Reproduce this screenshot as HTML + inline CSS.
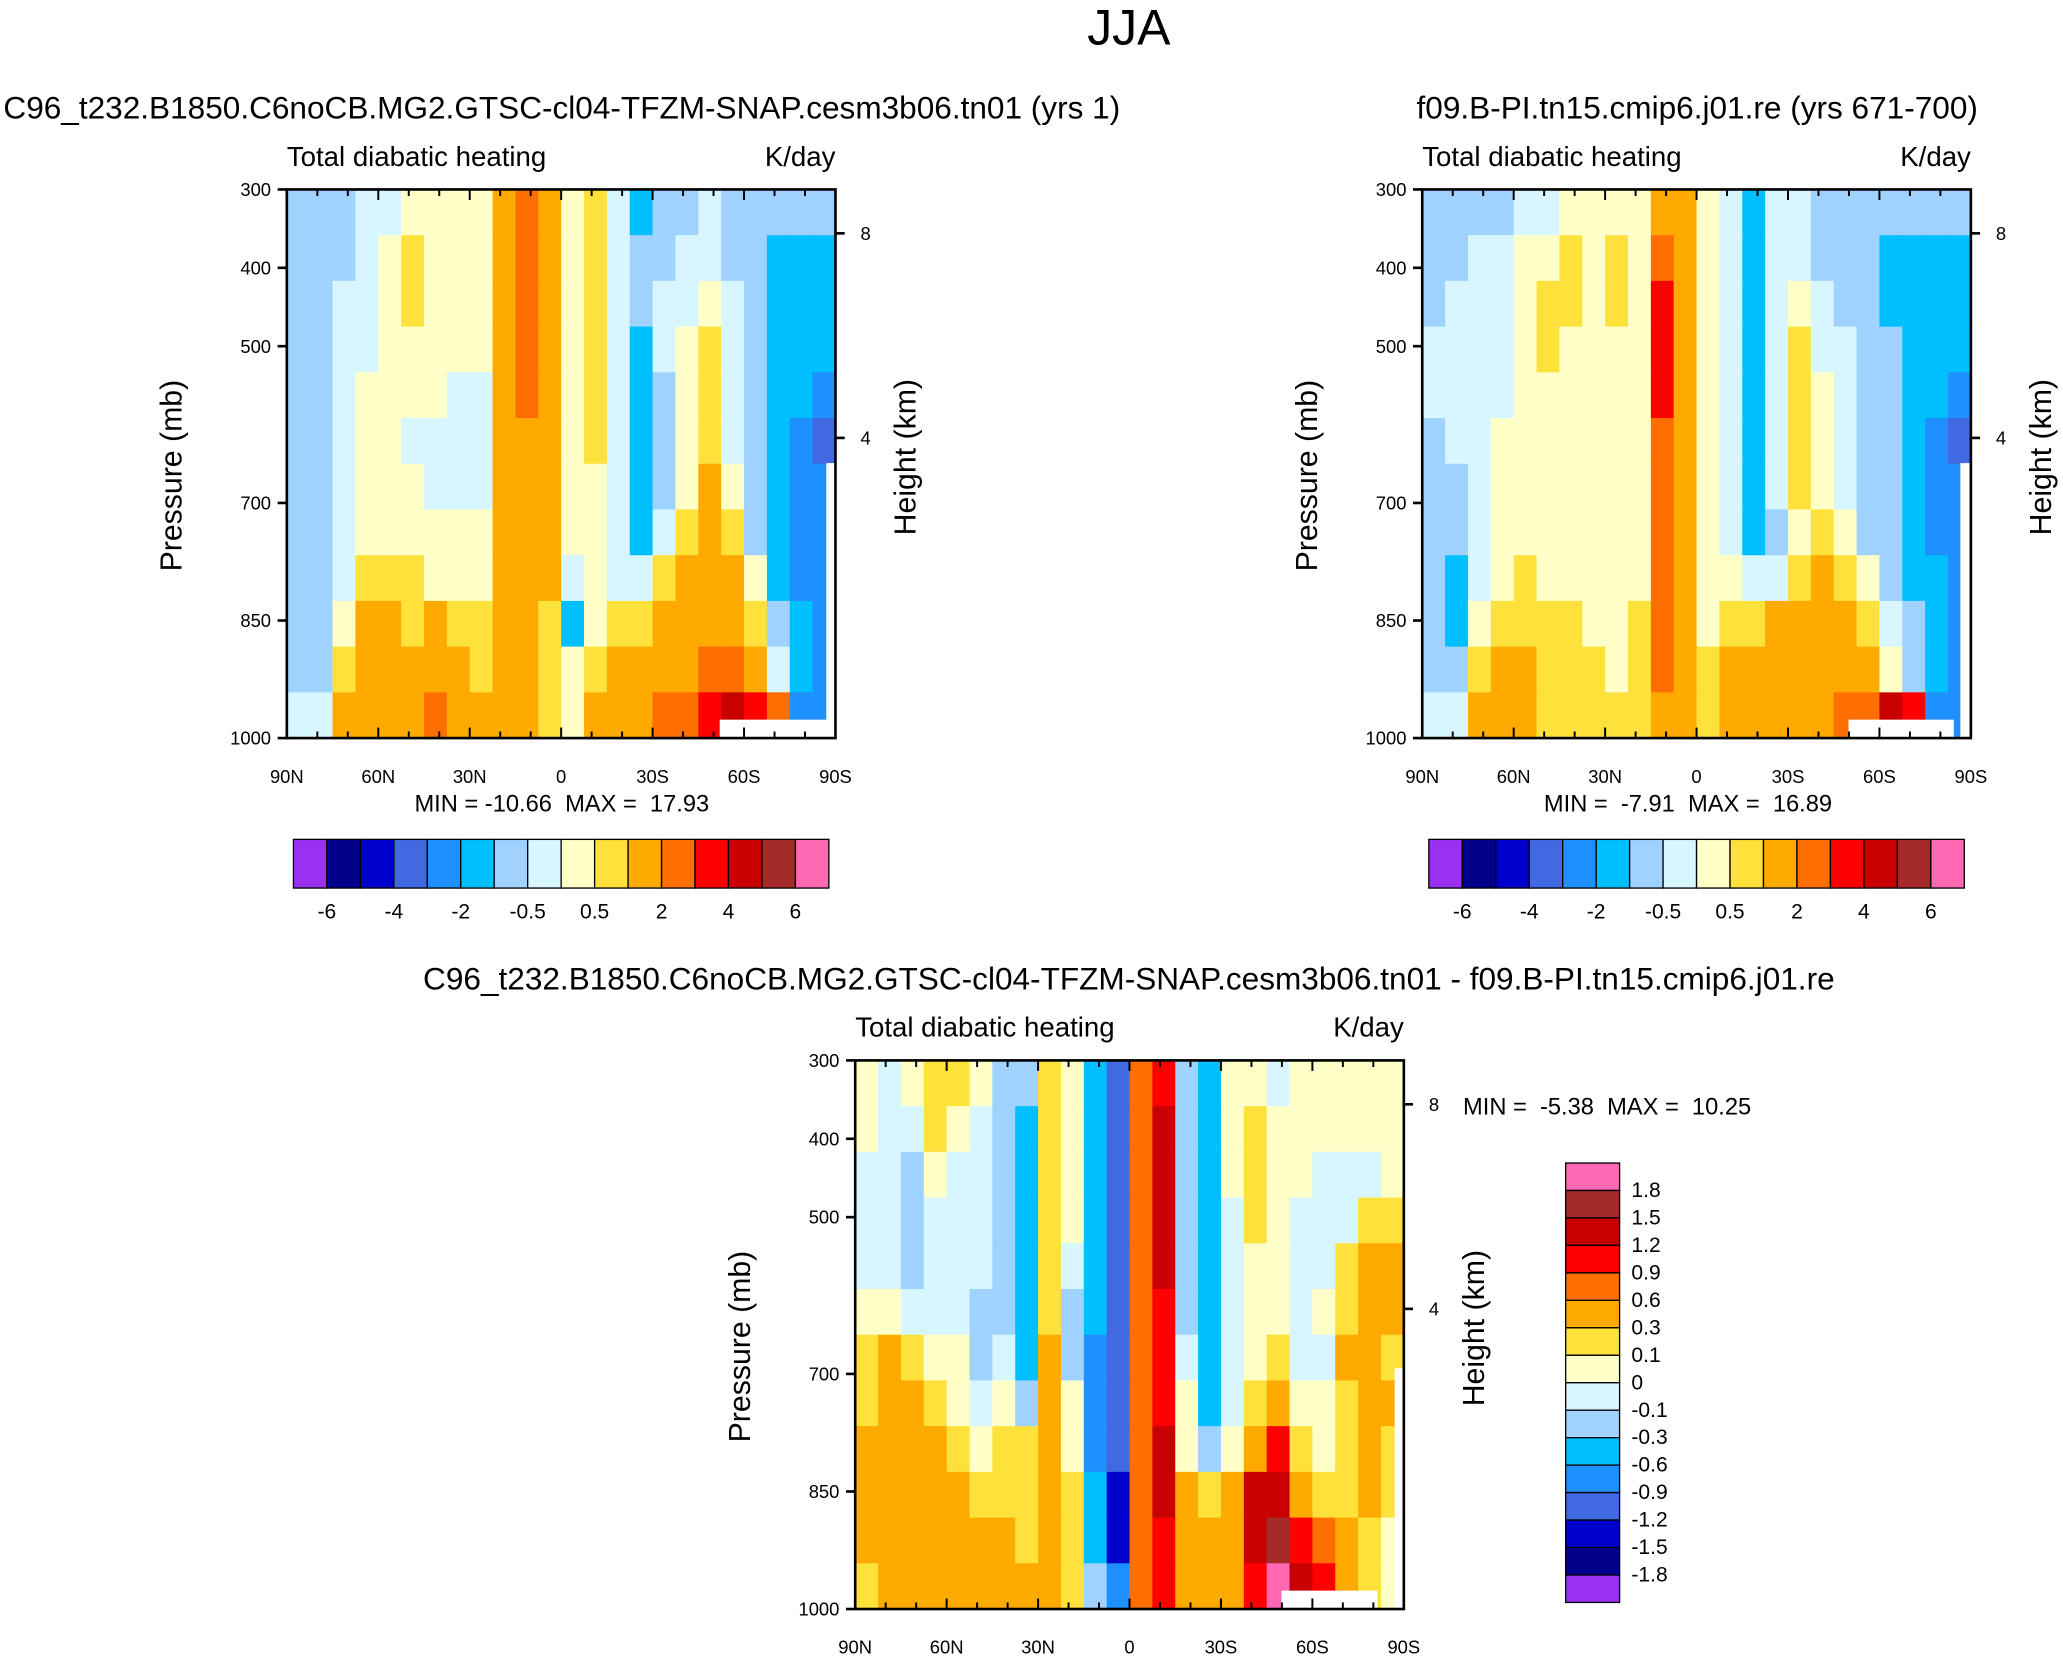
<!DOCTYPE html>
<html><head><meta charset="utf-8"><style>
html,body{margin:0;padding:0;background:#fff}
svg{display:block;font-family:"Liberation Sans",Arial,sans-serif}
text{white-space:pre}
</style></head><body>
<svg id="s" width="2063" height="1661" viewBox="0 0 1568 1262.5" xmlns="http://www.w3.org/2000/svg" xml:space="preserve">
<rect width="1568" height="1262.5" fill="#fff"/>
<text x="858" y="34" font-size="38" text-anchor="middle">JJA</text>
</svg>
<script>
const palette=["#9B30F0","#00008B","#0000CD","#4169E1","#1E90FF","#00BFFF","#A0D2FF","#D8F6FF","#FFFFC8","#FFE13C","#FFAA00","#FF6E00","#FF0000","#C80000","#A52A2A","#FF69B4"];
const levelsAbs=[-6,-5,-4,-3,-2,-1,-0.5,0,0.5,1,2,3,4,5,6];
const levelsDiff=[-1.8,-1.5,-1.2,-0.9,-0.6,-0.3,-0.1,0,0.1,0.3,0.6,0.9,1.2,1.5,1.8];
const cbLabelsAbs=["-6","-4","-2","-0.5","0.5","2","4","6"];
const cbLabelsDiff=["1.8","1.5","1.2","0.9","0.6","0.3","0.1","0","-0.1","-0.3","-0.6","-0.9","-1.2","-1.5","-1.8"];
const pTicks=[300,400,500,700,850,1000];
const zTicks=[8,4];
const zTickP=[356,617];
const latTicks=["90N","60N","30N","0","30S","60S","90S"];
const grid1=[
[-0.7,-0.7,-0.7,-0.3,-0.3,0.3,0.3,0.3,0.3,1.5,2.5,1.5,0.3,0.7,-0.3,-1.5,-0.7,-0.7,-0.3,-0.7,-0.7,-0.7,-0.7,-0.7],
[-0.7,-0.7,-0.7,-0.3,0.3,0.7,0.3,0.3,0.3,1.5,2.5,1.5,0.3,0.7,-0.3,-0.7,-0.7,-0.3,-0.3,-0.7,-0.7,-1.5,-1.5,-1.5],
[-0.7,-0.7,-0.3,-0.3,0.3,0.7,0.3,0.3,0.3,1.5,2.5,1.5,0.3,0.7,-0.3,-0.7,-0.3,-0.3,0.3,-0.3,-0.7,-1.5,-1.5,-1.5],
[-0.7,-0.7,-0.3,-0.3,0.3,0.3,0.3,0.3,0.3,1.5,2.5,1.5,0.3,0.7,-0.3,-1.5,-0.3,0.3,0.7,-0.3,-0.7,-1.5,-1.5,-1.5],
[-0.7,-0.7,-0.3,0.3,0.3,0.3,0.3,-0.3,-0.3,1.5,2.5,1.5,0.3,0.7,-0.3,-1.5,-0.7,0.3,0.7,-0.3,-0.7,-1.5,-1.5,-2.5],
[-0.7,-0.7,-0.3,0.3,0.3,-0.3,-0.3,-0.3,-0.3,1.5,1.5,1.5,0.3,0.7,-0.3,-1.5,-0.7,0.3,0.7,-0.3,-0.7,-1.5,-2.5,-3.5],
[-0.7,-0.7,-0.3,0.3,0.3,0.3,-0.3,-0.3,-0.3,1.5,1.5,1.5,0.3,0.3,-0.3,-1.5,-0.7,0.3,1.5,0.3,-0.7,-1.5,-2.5,-2.5],
[-0.7,-0.7,-0.3,0.3,0.3,0.3,0.3,0.3,0.3,1.5,1.5,1.5,0.3,0.3,-0.3,-1.5,-0.3,0.7,1.5,0.7,-0.7,-1.5,-2.5,-2.5],
[-0.7,-0.7,-0.3,0.7,0.7,0.7,0.3,0.3,0.3,1.5,1.5,1.5,-0.3,0.3,-0.3,-0.3,0.7,1.5,1.5,1.5,0.3,-1.5,-2.5,-2.5],
[-0.7,-0.7,0.3,1.5,1.5,0.7,1.5,0.7,0.7,1.5,1.5,0.7,-1.5,0.3,0.7,0.7,1.5,1.5,1.5,1.5,0.7,-0.7,-1.5,-2.5],
[-0.7,-0.7,0.7,1.5,1.5,1.5,1.5,1.5,0.7,1.5,1.5,0.7,0.3,0.7,1.5,1.5,1.5,1.5,2.5,2.5,1.5,-0.3,-1.5,-2.5],
[-0.3,-0.3,1.5,1.5,1.5,1.5,2.5,1.5,1.5,1.5,1.5,0.7,0.3,1.5,1.5,1.5,2.5,2.5,3.5,4.5,3.5,2.5,-2.5,-2.5]];
const grid2=[
[-0.7,-0.7,-0.7,-0.7,-0.3,-0.3,0.3,0.3,0.3,0.3,1.5,1.5,0.3,-0.3,-1.5,-0.3,-0.3,-0.7,-0.7,-0.7,-0.7,-0.7,-0.7,-0.7],
[-0.7,-0.7,-0.3,-0.3,0.3,0.3,0.7,0.3,0.7,0.3,2.5,1.5,0.3,-0.3,-1.5,-0.3,-0.3,-0.7,-0.7,-0.7,-1.5,-1.5,-1.5,-1.5],
[-0.7,-0.3,-0.3,-0.3,0.3,0.7,0.7,0.3,0.7,0.3,3.5,1.5,0.3,-0.3,-1.5,-0.3,0.3,-0.3,-0.7,-0.7,-1.5,-1.5,-1.5,-1.5],
[-0.3,-0.3,-0.3,-0.3,0.3,0.7,0.3,0.3,0.3,0.3,3.5,1.5,0.3,-0.3,-1.5,-0.3,0.7,-0.3,-0.3,-0.7,-0.7,-1.5,-1.5,-1.5],
[-0.3,-0.3,-0.3,-0.3,0.3,0.3,0.3,0.3,0.3,0.3,3.5,1.5,0.3,-0.3,-1.5,-0.3,0.7,0.3,-0.3,-0.7,-0.7,-1.5,-1.5,-2.5],
[-0.7,-0.3,-0.3,0.3,0.3,0.3,0.3,0.3,0.3,0.3,2.5,1.5,0.3,-0.3,-1.5,-0.3,0.7,0.3,-0.3,-0.7,-0.7,-1.5,-2.5,-3.5],
[-0.7,-0.7,-0.3,0.3,0.3,0.3,0.3,0.3,0.3,0.3,2.5,1.5,0.3,-0.3,-1.5,-0.3,0.7,0.3,-0.3,-0.7,-0.7,-1.5,-2.5,-2.5],
[-0.7,-0.7,-0.3,0.3,0.3,0.3,0.3,0.3,0.3,0.3,2.5,1.5,0.3,-0.3,-1.5,-0.7,0.3,0.7,0.3,-0.7,-0.7,-1.5,-2.5,-2.5],
[-0.7,-1.5,-0.3,0.3,0.7,0.3,0.3,0.3,0.3,0.3,2.5,1.5,0.3,0.3,-0.3,-0.3,0.7,1.5,0.7,0.3,-0.7,-1.5,-1.5,-2.5],
[-0.7,-1.5,0.3,0.7,0.7,0.7,0.7,0.3,0.3,0.7,2.5,1.5,0.3,0.7,0.7,1.5,1.5,1.5,1.5,0.7,-0.3,-0.7,-1.5,-2.5],
[-0.7,-0.7,0.7,1.5,1.5,0.7,0.7,0.7,0.3,0.7,2.5,1.5,0.7,1.5,1.5,1.5,1.5,1.5,1.5,1.5,0.3,-0.7,-1.5,-2.5],
[-0.3,-0.3,1.5,1.5,1.5,0.7,0.7,0.7,0.7,0.7,1.5,1.5,0.7,1.5,1.5,1.5,1.5,1.5,2.5,2.5,4.5,3.5,-2.5,-2.5]];
const grid3=[
[0.05,-0.05,0.05,0.2,0.2,0.05,-0.2,-0.2,0.2,0.05,-0.4,-1.0,0.7,1.0,-0.2,-0.4,0.05,0.05,-0.05,0.05,0.05,0.05,0.05,0.05],
[0.05,-0.05,-0.05,0.2,0.05,-0.05,-0.2,-0.4,0.2,0.05,-0.4,-1.0,0.7,1.3,-0.2,-0.4,0.05,0.2,0.05,0.05,0.05,0.05,0.05,0.05],
[-0.05,-0.05,-0.2,0.05,-0.05,-0.05,-0.2,-0.4,0.2,0.05,-0.4,-1.0,0.7,1.3,-0.2,-0.4,0.05,0.2,0.05,0.05,-0.05,-0.05,-0.05,0.05],
[-0.05,-0.05,-0.2,-0.05,-0.05,-0.05,-0.2,-0.4,0.2,0.05,-0.4,-1.0,0.7,1.3,-0.2,-0.4,-0.05,0.2,0.05,-0.05,-0.05,-0.05,0.2,0.2],
[-0.05,-0.05,-0.2,-0.05,-0.05,-0.05,-0.2,-0.4,0.2,-0.05,-0.4,-1.0,0.7,1.3,-0.2,-0.4,-0.05,0.05,0.05,-0.05,-0.05,0.2,0.4,0.4],
[0.05,0.05,-0.05,-0.05,-0.05,-0.2,-0.2,-0.4,0.2,-0.2,-0.4,-1.0,0.7,1.0,-0.2,-0.4,-0.05,0.05,0.05,-0.05,0.05,0.2,0.4,0.4],
[0.2,0.4,0.2,0.05,0.05,-0.2,-0.05,-0.4,0.4,-0.2,-0.7,-1.0,0.7,1.0,-0.05,-0.4,-0.05,0.05,0.2,-0.05,-0.05,0.4,0.4,0.2],
[0.2,0.4,0.4,0.2,0.05,-0.05,0.05,-0.2,0.4,0.05,-0.7,-1.0,0.7,1.0,0.05,-0.4,-0.05,0.2,0.4,0.05,0.05,0.2,0.4,0.4],
[0.4,0.4,0.4,0.4,0.2,0.05,0.2,0.2,0.4,0.05,-0.7,-1.0,0.7,1.3,0.05,-0.2,0.05,0.4,1.0,0.2,0.05,0.2,0.4,0.2],
[0.4,0.4,0.4,0.4,0.4,0.2,0.2,0.2,0.4,0.2,-0.4,-1.3,0.7,1.3,0.4,0.2,0.4,1.3,1.3,0.4,0.2,0.2,0.4,0.2],
[0.4,0.4,0.4,0.4,0.4,0.4,0.4,0.2,0.4,0.2,-0.4,-1.3,0.7,1.0,0.4,0.4,0.4,1.3,1.6,1.0,0.7,0.4,0.2,0.05],
[0.2,0.4,0.4,0.4,0.4,0.4,0.4,0.4,0.4,0.2,-0.2,-0.7,0.7,1.0,0.4,0.4,0.4,1.0,2.0,1.3,1.0,0.4,0.2,0.05]];
const NS="http://www.w3.org/2000/svg";
const svg=document.getElementById('s');
function el(tag,attrs,txt){const e=document.createElementNS(NS,tag);for(const k in attrs)e.setAttribute(k,attrs[k]);if(txt!==undefined)e.textContent=txt;svg.appendChild(e);return e;}
function colorFor(v,lv){let i=0;while(i<lv.length&&v>=lv[i])i++;return palette[i];}
function panel(x0,y0,grid,lv,title,titleX,minmax,mmX,mmY,blanks,tag){
  const W=417,H=417;
  const xs=lat=>x0+(90-lat)/180*W;
  const ys=p=>y0+(p-300)/700*H;
  const rows=grid.length,cols=grid[0].length;
  grid.forEach((row,r)=>row.forEach((v,c)=>{
    const lat0=90-c*180/cols,lat1=90-(c+1)*180/cols;
    const p0=300+r*700/rows,p1=300+(r+1)*700/rows;
    const e=el('rect',{x:xs(lat0),y:ys(p0),width:xs(lat1)-xs(lat0)+0.6,height:ys(p1)-ys(p0)+0.6,fill:colorFor(v,lv)});
    
    
  }));
  blanks.forEach(b=>{const e=el('rect',{x:b[0],y:b[1],width:b[2],height:b[3],fill:'#fff'});});
  let f=el('rect',{x:x0,y:y0,width:W,height:H,fill:'none',stroke:'#000','stroke-width':2});
  
  let t=el('text',{x:titleX,y:y0-54,'font-size':24,'text-anchor':'middle'},title);
  
  t=el('text',{x:x0,y:y0-18,'font-size':21},'Total diabatic heating');
  
  t=el('text',{x:x0+W,y:y0-18,'font-size':21,'text-anchor':'end'},'K/day');
  
  pTicks.forEach(p=>{
    el('line',{x1:x0-7,x2:x0,y1:ys(p),y2:ys(p),stroke:'#000','stroke-width':2});
    const e=el('text',{x:x0-12,y:ys(p)+5,'font-size':14,'text-anchor':'end'},p);
    
  });
  zTicks.forEach((z,i)=>{
    const y=ys(zTickP[i]);
    el('line',{x1:x0+W,x2:x0+W+7,y1:y,y2:y,stroke:'#000','stroke-width':2});
    const e=el('text',{x:x0+W+19,y:y+5,'font-size':14},z);
    
  });
  for(let lat=90;lat>=-90;lat-=10){
    const big=lat%30===0, len=big?8:5;
    el('line',{x1:xs(lat),x2:xs(lat),y1:y0+H,y2:y0+H-len,stroke:'#000','stroke-width':1.5});
    el('line',{x1:xs(lat),x2:xs(lat),y1:y0,y2:y0+len,stroke:'#000','stroke-width':1.5});
  }
  latTicks.forEach((l,i)=>{
    const e=el('text',{x:x0+i*W/6,y:y0+H+34,'font-size':14,'text-anchor':'middle'},l);
    
  });
  t=el('text',{x:0,y:0,'font-size':23,'text-anchor':'middle',transform:`translate(${x0-80},${y0+H/2+9}) rotate(-90)`},'Pressure (mb)');
  
  t=el('text',{x:0,y:0,'font-size':23,'text-anchor':'middle',transform:`translate(${x0+W+61},${y0+H/2-5}) rotate(-90)`},'Height (km)');
  
  t=el('text',{x:mmX,y:mmY,'font-size':18,'text-anchor':minmax[1]},minmax[0]);
  
}
function hbar(x0,y0,tag){
  const w=407/16;
  palette.forEach((c,i)=>{const e=el('rect',{x:x0+i*w,y:y0,width:w,height:37,fill:c,stroke:'#000','stroke-width':1});});
  cbLabelsAbs.forEach((l,i)=>{const e=el('text',{x:x0+(2*i+1)*w,y:y0+60,'font-size':16,'text-anchor':'middle'},l);});
}
panel(218,144,grid1,levelsAbs,'C96_t232.B1850.C6noCB.MG2.GTSC-cl04-TFZM-SNAP.cesm3b06.tn01 (yrs 1)',427,['MIN = -10.66  MAX =  17.93','middle'],427,617,[[547,547,83,14],[628,352,7,209]],'panel1');
hbar(223,638,'panel1');
panel(1081,144,grid2,levelsAbs,'f09.B-PI.tn15.cmip6.j01.re (yrs 671-700)',1290,['MIN =  -7.91  MAX =  16.89','middle'],1283,617,[[1405,547,80,14],[1490,352,8,209]],'panel2');
hbar(1086,638,'panel2');
panel(650,806,grid3,levelsDiff,'C96_t232.B1850.C6noCB.MG2.GTSC-cl04-TFZM-SNAP.cesm3b06.tn01 - f09.B-PI.tn15.cmip6.j01.re',858,['MIN =  -5.38  MAX =  10.25','start'],1112,847,[[974,1209,73,14],[1060,1040,7,183]],'panel3');
(function(){
  const x0=1190,y0=884,h=334/16;
  palette.slice().reverse().forEach((c,i)=>{const e=el('rect',{x:x0,y:y0+i*h,width:41,height:h,fill:c,stroke:'#000','stroke-width':1});});
  cbLabelsDiff.forEach((l,i)=>{const e=el('text',{x:x0+50,y:y0+(i+1)*h+5,'font-size':16},l);});
})();
</script>
</body></html>
